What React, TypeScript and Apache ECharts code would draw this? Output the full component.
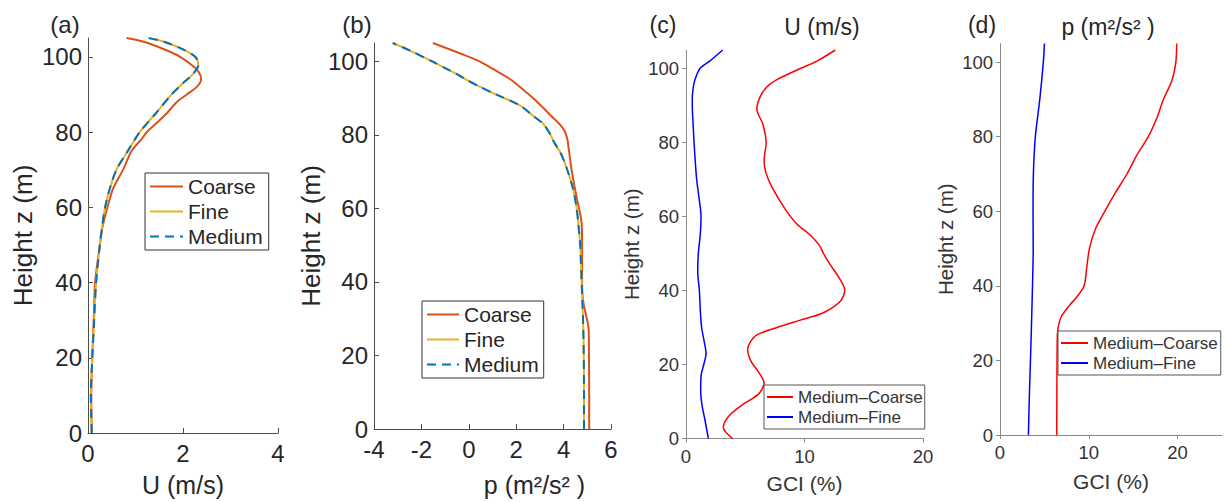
import React, { useEffect, useRef } from 'react';
import * as echarts from 'echarts';

const FONT = '"Liberation Sans", Arial, Helvetica, sans-serif';

// shared tick labels
const heightTicks = [0, 20, 40, 60, 80, 100];
const gciTicks = [0, 10, 20];

// ---------- panel (a): U (m/s) ----------
const aCoarseZ = [0, 10, 20, 30, 40, 50, 55, 60, 65, 70, 75, 78, 80, 82, 85, 88, 90, 92, 94, 95, 97, 100, 102, 104, 105];
const aCoarseU = [0.08, 0.07, 0.09, 0.12, 0.15, 0.25, 0.31, 0.41, 0.53, 0.74, 0.92, 1.12, 1.24, 1.41, 1.66, 1.87, 2.08, 2.29, 2.38, 2.37, 2.26, 1.94, 1.6, 1.17, 0.81];
const aFineZ = [0, 10, 20, 30, 40, 50, 55, 60, 65, 70, 75, 80, 85, 90, 93, 95, 97, 98, 100, 102, 104, 105];
const aFineU = [0.08, 0.06, 0.09, 0.13, 0.17, 0.25, 0.3, 0.36, 0.46, 0.6, 0.84, 1.09, 1.43, 1.76, 2.0, 2.18, 2.3, 2.32, 2.25, 2.0, 1.6, 1.27];
const aMediumZ = [0, 10, 20, 30, 40, 50, 55, 60, 65, 70, 75, 80, 85, 90, 93, 95, 97, 98, 100, 102, 104, 105];
const aMediumU = [0.08, 0.06, 0.09, 0.13, 0.17, 0.25, 0.3, 0.36, 0.46, 0.6, 0.84, 1.09, 1.43, 1.76, 2.0, 2.18, 2.3, 2.33, 2.26, 2.0, 1.6, 1.27];

// ---------- panel (b): p (m2/s2) ----------
const bCoarseZ = [0, 10, 20, 27, 30, 35, 40, 50, 56, 63, 70, 77, 79, 81, 83, 85, 87, 90, 92, 95, 98, 100, 102, 105];
const bCoarseP = [5.08, 5.08, 5.07, 5.06, 4.98, 4.82, 4.78, 4.78, 4.76, 4.55, 4.35, 4.2, 4.15, 4.05, 3.82, 3.5, 3.2, 2.72, 2.35, 1.78, 1.0, 0.45, -0.3, -1.52];
const bFineZ = [0, 10, 20, 30, 40, 50, 56, 60, 65, 71, 75, 78, 80, 83, 85, 88, 91, 93, 95, 96.5, 98, 100, 103, 105];
const bFineP = [4.86, 4.86, 4.85, 4.82, 4.76, 4.7, 4.62, 4.55, 4.41, 4.13, 3.88, 3.6, 3.45, 3.14, 2.75, 2.16, 1.15, 0.5, -0.1, -0.5, -0.95, -1.55, -2.5, -3.21];
const bMediumZ = [0, 10, 20, 30, 40, 50, 56, 60, 65, 71, 75, 78, 80, 83, 85, 88, 91, 93, 95, 96.5, 98, 100, 103, 105];
const bMediumP = [4.86, 4.86, 4.85, 4.82, 4.76, 4.7, 4.62, 4.55, 4.41, 4.13, 3.88, 3.6, 3.45, 3.14, 2.75, 2.16, 1.15, 0.5, -0.1, -0.5, -0.95, -1.55, -2.5, -3.21];

// ---------- panel (c): GCI of U (%) ----------
const cMedCoarseZ = [0, 3, 6, 9, 12, 15, 18, 21, 24, 26, 28, 30, 32, 34, 37, 40, 43, 47, 50, 52, 55, 58, 62, 68, 72, 75, 80, 85, 89, 92, 95, 97, 100, 102, 105];
const cMedCoarseGci = [3.94, 3.15, 3.6, 4.71, 6.11, 6.59, 6.11, 5.47, 5.2, 5.41, 5.98, 7.67, 9.64, 11.6, 13.0, 13.4, 13.0, 12.17, 11.6, 11.3, 10.48, 9.35, 8.37, 7.24, 6.73, 6.59, 6.76, 6.48, 5.98, 6.2, 6.82, 7.67, 9.64, 11.05, 12.6];
const cMedFineZ = [0, 5, 9, 13, 17, 20, 23, 26, 30, 35, 40, 45, 50, 55, 60, 65, 70, 75, 80, 85, 90, 92, 95, 97, 100, 102, 105];
const cMedFineGci = [1.89, 1.6, 1.35, 1.24, 1.27, 1.5, 1.69, 1.55, 1.32, 1.2, 1.13, 0.99, 1.04, 1.2, 1.27, 1.1, 0.9, 0.78, 0.68, 0.6, 0.53, 0.53, 0.62, 0.76, 1.18, 2.0, 3.1];

// ---------- panel (d): GCI of p (%) ----------
const dMedCoarseZ = [0, 10, 20, 26, 28, 30, 32, 35, 37, 40, 45, 50, 55, 60, 65, 70, 75, 80, 85, 90, 95, 100, 105];
const dMedCoarseGci = [6.39, 6.4, 6.42, 6.45, 6.5, 6.65, 6.96, 7.9, 8.65, 9.47, 9.77, 10.07, 10.7, 11.8, 13.0, 14.3, 15.4, 16.7, 17.66, 18.4, 19.35, 19.8, 19.9];
const dMedFineZ = [0, 10, 20, 30, 40, 50, 60, 70, 80, 90, 100, 105];
const dMedFineGci = [3.2, 3.3, 3.43, 3.55, 3.66, 3.74, 3.72, 3.76, 3.98, 4.48, 4.88, 5.0];

const zip = (xs: number[], zs: number[]) => xs.map((x, i) => [x, zs[i]]);

const C_COARSE = '#D95319';
const C_FINE = '#EDB120';
const C_MEDIUM = '#0072BD';
const C_RED = '#FF0000';
const C_BLUE = '#0000FF';
const TXT = '#262626';
const AX_DARK = '#4d4d4d';
const AX_GREY = '#8a8a8a';

function buildOption(): any {
  const grids = [
    { left: 88, top: 38, width: 190, height: 397.5 },
    { left: 374, top: 43, width: 237, height: 394 },
    { left: 686, top: 50, width: 237, height: 388.5 },
    { left: 1000, top: 43.5, width: 222, height: 391.5 },
  ];

  const bigLabel = { color: TXT, fontSize: 24, fontFamily: FONT };
  const smallLabel = { color: '#333', fontSize: 18.5, fontFamily: FONT };

  const xAxes = [
    {
      gridIndex: 0, type: 'value', min: 0, max: 4, interval: 2,
      axisLine: { show: true, onZero: false, lineStyle: { color: AX_DARK, width: 1 } },
      axisTick: { show: true, inside: true, length: 5, lineStyle: { color: AX_DARK } },
      axisLabel: { ...bigLabel, margin: 8 },
      splitLine: { show: false },
      name: 'U (m/s)', nameLocation: 'middle', nameGap: 39,
      nameTextStyle: { color: TXT, fontSize: 25, fontFamily: FONT },
    },
    {
      gridIndex: 1, type: 'value', min: -4, max: 6, interval: 2,
      axisLine: { show: true, onZero: false, lineStyle: { color: AX_DARK, width: 1 } },
      axisTick: { show: true, inside: true, length: 5, lineStyle: { color: AX_DARK } },
      axisLabel: { ...bigLabel, margin: 8 },
      splitLine: { show: false },
      name: 'p (m²/s² )', nameLocation: 'middle', nameGap: 43,
      nameTextStyle: { color: TXT, fontSize: 25, fontFamily: FONT, padding: [0, 0, 0, 84] },
    },
    {
      gridIndex: 2, type: 'value', min: 0, max: 20, interval: 10,
      axisLine: { show: true, onZero: false, lineStyle: { color: AX_GREY, width: 1 } },
      axisTick: { show: true, inside: false, length: 4, lineStyle: { color: AX_GREY } },
      axisLabel: { ...smallLabel, margin: 8 },
      splitLine: { show: false },
      name: 'GCI (%)', nameLocation: 'middle', nameGap: 34,
      nameTextStyle: { color: '#333', fontSize: 21, fontFamily: FONT },
    },
    {
      gridIndex: 3, type: 'value', min: 0, max: 25,
      axisLine: { show: true, onZero: false, lineStyle: { color: AX_GREY, width: 1 } },
      axisTick: { show: true, inside: false, length: 4, lineStyle: { color: AX_GREY }, customValues: gciTicks },
      axisLabel: { ...smallLabel, margin: 8, customValues: gciTicks },
      splitLine: { show: false },
      name: 'GCI (%)', nameLocation: 'middle', nameGap: 36,
      nameTextStyle: { color: '#333', fontSize: 21, fontFamily: FONT },
    },
  ];

  const yAxis = (gi: number, dark: boolean, gap: number, nameSize: number) => ({
    gridIndex: gi, type: 'value', min: 0, max: 105,
    axisLine: { show: true, onZero: false, lineStyle: { color: dark ? AX_DARK : AX_GREY, width: 1 } },
    axisTick: { show: true, inside: dark, length: dark ? 5 : 4, lineStyle: { color: dark ? AX_DARK : AX_GREY }, customValues: heightTicks },
    axisLabel: { ...(dark ? bigLabel : smallLabel), margin: dark ? 6 : 7, customValues: heightTicks },
    splitLine: { show: false },
    name: 'Height z (m)', nameLocation: 'middle', nameGap: gap,
    nameTextStyle: { color: dark ? TXT : '#333', fontSize: nameSize, fontFamily: FONT },
  });

  const yAxes = [yAxis(0, true, 52, 26), yAxis(1, true, 49, 26), yAxis(2, false, 44, 20.5), yAxis(3, false, 44, 20.5)];

  const line = (name: string, gi: number, data: number[][], color: string, width: number, dashed = false) => ({
    name, type: 'line', xAxisIndex: gi, yAxisIndex: gi, data,
    showSymbol: false, symbol: 'none', smooth: 0.3,
    lineStyle: { color, width, type: dashed ? [9, 6] : 'solid' },
    itemStyle: { color },
    emphasis: { disabled: true },
  });

  const series = [
    line('Coarse', 0, zip(aCoarseU, aCoarseZ), C_COARSE, 2),
    line('Fine', 0, zip(aFineU, aFineZ), C_FINE, 2),
    line('Medium', 0, zip(aMediumU, aMediumZ), C_MEDIUM, 2, true),
    line('Coarse', 1, zip(bCoarseP, bCoarseZ), C_COARSE, 2),
    line('Fine', 1, zip(bFineP, bFineZ), C_FINE, 2),
    line('Medium', 1, zip(bMediumP, bMediumZ), C_MEDIUM, 2, true),
    line('Medium–Coarse', 2, zip(cMedCoarseGci, cMedCoarseZ), C_RED, 1.5),
    line('Medium–Fine', 2, zip(cMedFineGci, cMedFineZ), C_BLUE, 1.5),
    line('Medium–Coarse', 3, zip(dMedCoarseGci, dMedCoarseZ), C_RED, 1.5),
    line('Medium–Fine', 3, zip(dMedFineGci, dMedFineZ), C_BLUE, 1.5),
  ];

  const legendBase = {
    orient: 'vertical', itemGap: 0, selectedMode: false,
    borderWidth: 1, backgroundColor: '#fff',
    itemStyle: { opacity: 0, borderWidth: 0, color: 'transparent' },
  };
  const legends = [
    {
      ...legendBase, left: 145, top: 173, data: ['Coarse', 'Fine', 'Medium'],
      itemWidth: 33, itemHeight: 14, padding: [1, 6, 1, 4], borderColor: '#333',
      textStyle: { color: TXT, fontSize: 21, lineHeight: 25, fontFamily: FONT },
    },
    {
      ...legendBase, left: 422, top: 301, data: ['Coarse', 'Fine', 'Medium'],
      itemWidth: 32, itemHeight: 14, padding: [1, 5, 1, 4], borderColor: '#333',
      textStyle: { color: TXT, fontSize: 21, lineHeight: 25, fontFamily: FONT },
    },
    {
      ...legendBase, left: 764, top: 385, data: ['Medium–Coarse', 'Medium–Fine'],
      itemWidth: 26, itemHeight: 12, padding: [2, 2, 2, 2], borderColor: '#555',
      textStyle: { color: '#333', fontSize: 17, lineHeight: 20, fontFamily: FONT },
    },
    {
      ...legendBase, left: 1058, top: 331, data: ['Medium–Coarse', 'Medium–Fine'],
      itemWidth: 27, itemHeight: 12, padding: [2, 3, 2, 2], borderColor: '#555',
      textStyle: { color: '#333', fontSize: 17, lineHeight: 20, fontFamily: FONT },
    },
  ];

  const txt = (text: string, x: number, y: number, size: number, color = TXT) => ({
    type: 'text', x, y, silent: true,
    style: { text, font: `${size}px ${FONT}`, fill: color, textAlign: 'center', textVerticalAlign: 'middle' },
  });

  const graphic = [
    txt('(a)', 65, 24, 24),
    txt('(b)', 357, 24, 24),
    txt('(c)', 663, 25, 23),
    txt('U (m/s)', 822, 27, 23),
    txt('(d)', 982, 25, 23),
    txt('p (m²/s² )', 1108, 27, 23),
  ];

  return {
    animation: false,
    backgroundColor: '#fff',
    grid: grids,
    xAxis: xAxes,
    yAxis: yAxes,
    series,
    legend: legends,
    graphic,
  };
}

export default function App() {
  const ref = useRef<HTMLDivElement>(null);
  useEffect(() => {
    if (!ref.current) return;
    const chart = echarts.init(ref.current, undefined, { renderer: 'svg' });
    chart.setOption(buildOption());
    return () => chart.dispose();
  }, []);
  return (
    <div
      ref={ref}
      style={{ position: 'fixed', left: 0, top: 0, width: 1228, height: 502, background: '#fff' }}
    />
  );
}
